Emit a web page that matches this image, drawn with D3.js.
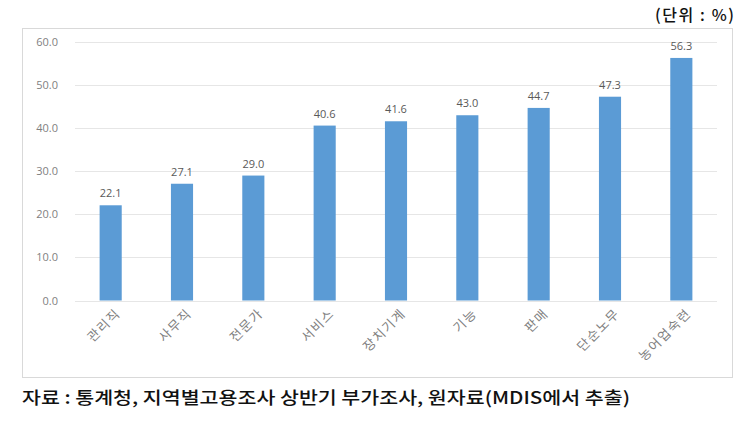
<!DOCTYPE html>
<html><head><meta charset="utf-8">
<script src="https://cdn.jsdelivr.net/npm/d3@7"></script>
<style>body{margin:0;background:#fff}svg{display:block}</style>
</head><body>
<script>
const categories = ["관리직","사무직","전문가","서비스","장치기계","기능","판매","단순노무","농어업숙련"];
const values = [22.1,27.1,29.0,40.6,41.6,43.0,44.7,47.3,56.3];
const yTicks = [0,10,20,30,40,50,60];
const unitText = "(단위 : %)";
const sourceText = "자료 : 통계청, 지역별고용조사 상반기 부가조사, 원자료(MDIS에서 추출)";

const W = 754, H = 421;
const svg = d3.select("body").append("svg").attr("width", W).attr("height", H);

// chart frame
svg.append("rect").attr("x", 22.5).attr("y", 28.5).attr("width", 710).attr("height", 349)
  .attr("fill", "#fff").attr("stroke", "#d9d9d9").attr("stroke-width", 1);

const x = d3.scaleBand().domain(categories).range([75, 717]).paddingInner(0.69).paddingOuter(0.345);
const y = d3.scaleLinear().domain([0, 60]).range([300.5, 42]);

// gridlines
svg.append("g").selectAll("line").data(yTicks).join("line")
  .attr("x1", 75).attr("x2", 717)
  .attr("y1", d => Math.round(y(d)) + 0.5).attr("y2", d => Math.round(y(d)) + 0.5)
  .attr("stroke", "#e6e6e6").attr("stroke-width", 1);

// y axis labels
const yAxis = d3.axisLeft(y).tickValues(yTicks).tickFormat(d3.format(".1f")).tickSize(0).tickPadding(0);
const gy = svg.append("g").attr("transform", "translate(58,0)").call(yAxis);
gy.select(".domain").remove();
gy.selectAll("text").attr("fill", "#7f7f7f").style("font-family", "'Open Sans', sans-serif").style("font-size", "11px");

// bars
svg.append("g").selectAll("rect").data(values).join("rect")
  .attr("x", (d, i) => x(categories[i]))
  .attr("width", x.bandwidth())
  .attr("y", d => y(d))
  .attr("height", d => y(0) - y(d))
  .attr("fill", "#5b9bd5");

// value labels
svg.append("g").selectAll("text").data(values).join("text")
  .attr("x", (d, i) => x(categories[i]) + x.bandwidth() / 2)
  .attr("y", d => y(d) - 8)
  .attr("text-anchor", "middle")
  .attr("fill", "#595959")
  .style("font-family", "'Open Sans', sans-serif").style("font-size", "11px")
  .text(d => d.toFixed(1));

// x axis labels
const xAxis = d3.axisBottom(x).tickSize(0).tickPadding(0);
const gx = svg.append("g").attr("transform", "translate(0,311)").call(xAxis);
gx.select(".domain").remove();
gx.selectAll("text")
  .attr("fill", "#808080")
  .style("font-family", "'Noto Sans CJK KR', sans-serif").style("font-size", "13px")
  .style("letter-spacing", "1.5px")
  .attr("text-anchor", "end").attr("dy", "0.75em").attr("dx", "0.4em")
  .attr("transform", "rotate(-45)");

// unit text
svg.append("text").attr("x", 734).attr("y", 21).attr("text-anchor", "end")
  .attr("fill", "#111").style("font-family", "'Noto Sans CJK KR', sans-serif")
  .style("font-size", "16px").style("font-weight", "500")
  .attr("textLength", 79).attr("lengthAdjust", "spacing")
  .text(unitText);

// source
svg.append("text").attr("x", 22).attr("y", 404)
  .attr("fill", "#111").style("font-family", "'Noto Sans CJK KR', sans-serif")
  .style("font-size", "17px").style("font-weight", "500")
  .attr("textLength", 608).attr("lengthAdjust", "spacingAndGlyphs")
  .text(sourceText);
</script>
</body></html>
